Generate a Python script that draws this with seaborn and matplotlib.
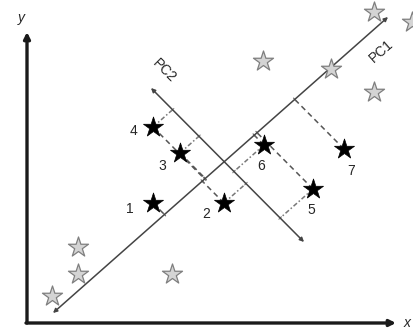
import numpy as np
import pandas as pd
import matplotlib
matplotlib.use('Agg')
import matplotlib.pyplot as plt
import seaborn as sns

# Datos (coordenadas en pixeles de la imagen, y hacia abajo)
black_x = [153, 224, 180, 153, 313, 264, 344]
black_y = [203, 203, 153, 127, 189, 145, 149]
black_labels = ['1', '2', '3', '4', '5', '6', '7']

grey_x = [374, 412, 263, 331, 374, 78, 78, 52, 172]
grey_y = [12, 22, 61, 69, 92, 247, 274, 296, 274]

# ejes principales (extremos)
pc1_start = [53, 313]
pc1_end = [388, 17]
pc2_start = [151, 88]
pc2_end = [304, 242]

# que puntos se proyectan sobre cada eje
proj_pc1 = ['1', '2', '3', '4', '5', '6', '7']
proj_pc2 = ['2', '3', '4', '5', '6']

label_offsets = {'1': (-17, -4), '2': (-13, -8), '3': (-13, -9), '4': (-14, -3),
                 '5': (-1, -15), '6': (-2, -15), '7': (5, -16)}

sns.set_style('white')
plt.rcParams['font.family'] = ['Liberation Sans', 'DejaVu Sans']

fig = plt.figure(figsize=(4.13, 3.31), dpi=100)
ax = fig.add_axes([0, 0, 1, 1])
ax.set_xlim(0, 413)
ax.set_ylim(331, 0)
ax.axis('off')

# ejes x, y
arrow_kw = dict(arrowstyle='-|>', lw=2.4, color='#1a1a1a', mutation_scale=9,
                shrinkA=0, shrinkB=0)
ax.annotate('', xy=(27, 32), xytext=(27, 323), arrowprops=arrow_kw)
ax.annotate('', xy=(396, 323), xytext=(26, 323), arrowprops=arrow_kw)
ax.text(21, 18, 'y', fontsize=10, style='italic', ha='center', va='center')
ax.text(404, 323, 'x', fontsize=10, style='italic', ha='left', va='center')

# PC1 y PC2 (doble flecha)
pc_kw = dict(arrowstyle='<|-|>', lw=1.1, color='#444444', mutation_scale=6,
             shrinkA=0, shrinkB=0)
ax.annotate('', xy=pc1_end, xytext=pc1_start, arrowprops=pc_kw)
ax.annotate('', xy=pc2_end, xytext=pc2_start, arrowprops=pc_kw)

p1a, p1b = np.array(pc1_start, float), np.array(pc1_end, float)
p2a, p2b = np.array(pc2_start, float), np.array(pc2_end, float)
d1 = (p1b - p1a) / np.linalg.norm(p1b - p1a)
d2 = (p2b - p2a) / np.linalg.norm(p2b - p2a)

ang1 = np.degrees(np.arctan2(-(p1b - p1a)[1], (p1b - p1a)[0]))
ax.text(381, 51, 'PC1', fontsize=10, rotation=ang1, ha='center', va='center')
ax.text(164, 71, 'PC2', fontsize=10, rotation=-45, ha='center', va='center')


def foot(p, base, d_line, d_proj):
    # interseccion de p + s*d_proj con base + t*d_line
    A = np.column_stack([d_line, -d_proj])
    t, s = np.linalg.solve(A, p - base)
    return base + t * d_line


for x, y, lab in zip(black_x, black_y, black_labels):
    p = np.array([x, y], float)
    if lab in proj_pc1:
        f = foot(p, p1a, d1, d2)
        ax.plot([p[0], f[0]], [p[1], f[1]], color='#555555', lw=1.1,
                linestyle=(0, (3.5, 2.5)), zorder=1)
        n = np.array([-d1[1], d1[0]]) * 1.8
        ax.plot([f[0] - n[0], f[0] + n[0]], [f[1] - n[1], f[1] + n[1]],
                color='#666666', lw=0.8, zorder=1)
    if lab in proj_pc2:
        f = foot(p, p2a, d2, d1)
        ax.plot([p[0], f[0]], [p[1], f[1]], color='#777777', lw=1.1,
                linestyle=(0, (3, 1.5, 1, 1.5)), zorder=1)
        n = np.array([-d2[1], d2[0]]) * 1.8
        ax.plot([f[0] - n[0], f[0] + n[0]], [f[1] - n[1], f[1] + n[1]],
                color='#888888', lw=0.8, zorder=1)

grey = pd.DataFrame({'x': grey_x, 'y': grey_y})
black = pd.DataFrame({'x': black_x, 'y': black_y, 'label': black_labels})

sns.scatterplot(data=grey, x='x', y='y', marker='*', s=230, color='#d4d4d4',
                edgecolor='#7f7f7f', linewidth=0.9, ax=ax, zorder=3)
sns.scatterplot(data=black, x='x', y='y', marker='*', s=230, color='black',
                edgecolor='black', linewidth=0.5, ax=ax, zorder=4)

for x, y, lab in zip(black_x, black_y, black_labels):
    ax.annotate(lab, (x, y), xytext=label_offsets[lab], textcoords='offset points',
                fontsize=10, ha='center', va='center')

ax.set_xlim(0, 413)
ax.set_ylim(331, 0)
ax.axis('off')
fig.savefig('out.png', dpi=100)
